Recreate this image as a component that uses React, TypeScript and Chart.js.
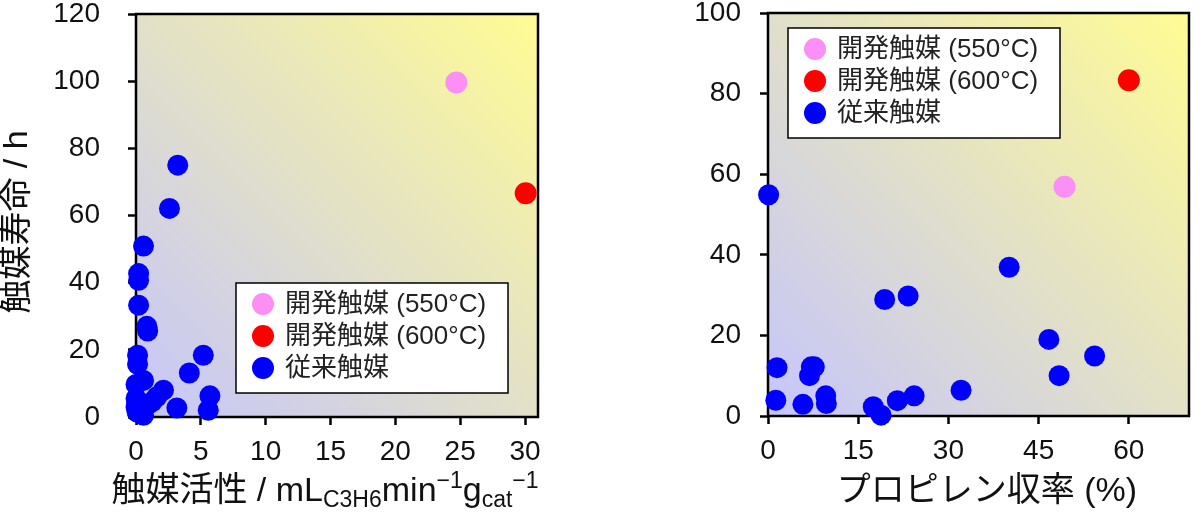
import React, { useEffect, useRef } from 'react';
import { Chart, registerables } from 'chart.js';

Chart.register(...registerables);

// ---------- Data ----------
const legendLabels = ['開発触媒 (550°C)', '開発触媒 (600°C)', '従来触媒'];
const markerColors = ['#fb8ff5', '#ff0000', '#0000ff'];

// Left chart: activity (x) vs lifetime (y)
const leftDev550X = [24.7];
const leftDev550Y = [99.6];
const leftDev600X = [30.05];
const leftDev600Y = [66.6];
const leftConvX = [3.22, 2.58, 0.58, 0.2, 0.2, 0.2, 0.84, 0.9, 0.12, 0.12, 5.19, 4.11, 0.58, 0.0, 2.12, 1.6, 5.7, 3.15, 5.57, 0.0, 0.0, 0.84, 0.58, 0.08, 1.23];
const leftConvY = [75.0, 62.1, 50.9, 42.7, 40.7, 33.3, 27.0, 25.6, 18.4, 15.7, 18.4, 13.1, 10.9, 9.7, 8.0, 6.0, 6.3, 2.7, 2.0, 5.5, 3.0, 3.5, 0.5, 1.5, 4.5];
const leftXTicks = [0, 5, 10, 15, 20, 25, 30];
const leftYTicks = [0, 20, 40, 60, 80, 100, 120];

// Right chart: propylene yield (x) vs CO2 conversion (y)
const rightDev550X = [49.3];
const rightDev550Y = [56.9];
const rightDev600X = [60.0];
const rightDev600Y = [83.3];
const rightConvX = [0.1, 40.1, 19.4, 23.3, 46.7, 48.4, 54.3, 1.5, 7.2, 7.7, 6.9, 1.3, 5.8, 9.6, 9.7, 17.5, 18.8, 21.5, 24.3, 32.1];
const rightConvY = [54.9, 36.9, 28.9, 29.8, 19.0, 10.0, 14.9, 12.0, 12.2, 12.2, 10.0, 3.9, 2.9, 5.0, 3.1, 2.3, 0.2, 3.8, 5.0, 6.4];
const rightXTicks = [0, 15, 30, 45, 60];
const rightYTicks = [0, 20, 40, 60, 80, 100];

// ---------- Styling helpers ----------
const FONT = "'Liberation Sans', 'Noto Sans CJK JP', sans-serif";

type Seg = { t: string; size: number; dy?: number };

function drawRich(ctx: CanvasRenderingContext2D, segs: Seg[], cx: number, cy: number, rotate: boolean) {
  ctx.save();
  ctx.translate(cx, cy);
  if (rotate) ctx.rotate(-Math.PI / 2);
  ctx.fillStyle = '#111';
  ctx.textBaseline = 'middle';
  ctx.textAlign = 'left';
  let total = 0;
  const widths = segs.map((s) => {
    ctx.font = `${s.size}px ${FONT}`;
    const w = ctx.measureText(s.t).width;
    total += w;
    return w;
  });
  let x = -total / 2;
  segs.forEach((s, i) => {
    ctx.font = `${s.size}px ${FONT}`;
    ctx.fillText(s.t, x, s.dy || 0);
    x += widths[i];
  });
  ctx.restore();
}

const toPts = (xs: number[], ys: number[]) => xs.map((x, i) => ({ x, y: ys[i] }));

interface Cfg {
  dev550: { x: number; y: number }[];
  dev600: { x: number; y: number }[];
  conv: { x: number; y: number }[];
  xMax: number;
  yMax: number;
  xTicks: number[];
  yTicks: number[];
  yWidth: number;
  xHeight: number;
  padTop: number;
  padRight: number;
  yPad: number;
  legend: { x: number; y: number };
  xTitle: Seg[];
  xTitlePos: { x: number; y: number };
  yTitle: Seg[];
  yTitlePos: { x: number; y: number };
}

function makeChart(canvas: HTMLCanvasElement, c: Cfg) {
  const bgPlugin = {
    id: 'bg',
    beforeDraw(chart: any) {
      const { ctx, chartArea: a } = chart;
      const g = ctx.createLinearGradient(a.left, a.bottom, a.right, a.top);
      g.addColorStop(0, '#c5c5fb');
      g.addColorStop(1, '#fffc94');
      ctx.save();
      ctx.fillStyle = g;
      ctx.fillRect(a.left, a.top, a.right - a.left, a.bottom - a.top);
      ctx.restore();
    },
    beforeDatasetsDraw(chart: any) {
      const { ctx, chartArea: a } = chart;
      ctx.save();
      ctx.strokeStyle = '#000';
      ctx.lineWidth = 2.5;
      ctx.strokeRect(a.left, a.top, a.right - a.left, a.bottom - a.top);
      ctx.restore();
    },
    afterDraw(chart: any) {
      const ctx = chart.ctx as CanvasRenderingContext2D;
      // legend box
      const bx = c.legend.x, by = c.legend.y, bw = 272, bh = 110;
      ctx.save();
      ctx.fillStyle = '#fff';
      ctx.fillRect(bx, by, bw, bh);
      ctx.strokeStyle = '#000';
      ctx.lineWidth = 1.5;
      ctx.strokeRect(bx, by, bw, bh);
      const rows = [21, 53, 85];
      chart.data.datasets.forEach((ds: any, i: number) => {
        ctx.beginPath();
        ctx.fillStyle = ds.backgroundColor;
        ctx.arc(bx + 27, by + rows[i], 11, 0, Math.PI * 2);
        ctx.fill();
        ctx.fillStyle = '#222';
        ctx.font = `26px ${FONT}`;
        ctx.textBaseline = 'middle';
        ctx.textAlign = 'left';
        ctx.fillText(ds.label, bx + 49, by + rows[i] + 1);
      });
      ctx.restore();
      drawRich(ctx, c.xTitle, c.xTitlePos.x, c.xTitlePos.y, false);
      drawRich(ctx, c.yTitle, c.yTitlePos.x, c.yTitlePos.y, true);
    },
  };

  return new Chart(canvas, {
    type: 'scatter',
    data: {
      datasets: [
        { label: legendLabels[0], data: c.dev550, backgroundColor: markerColors[0], borderWidth: 0, pointRadius: 11, clip: false as any, order: 1 },
        { label: legendLabels[1], data: c.dev600, backgroundColor: markerColors[1], borderWidth: 0, pointRadius: 11, clip: false as any, order: 1 },
        { label: legendLabels[2], data: c.conv, backgroundColor: markerColors[2], borderWidth: 0, pointRadius: 10.5, clip: false as any, order: 2 },
      ],
    },
    options: {
      animation: false,
      responsive: false,
      devicePixelRatio: 1,
      layout: { padding: { top: c.padTop, right: c.padRight, left: 0, bottom: 0 } },
      plugins: { legend: { display: false }, tooltip: { enabled: false }, title: { display: false } },
      scales: {
        x: {
          type: 'linear',
          min: 0,
          max: c.xMax,
          border: { display: false },
          grid: { display: true, drawOnChartArea: false, drawTicks: true, tickLength: 8, tickColor: '#000', tickWidth: 2.5 },
          ticks: { color: '#111', font: { family: FONT, size: 28 }, padding: 10, autoSkip: false, maxRotation: 0 },
          afterBuildTicks: (s: any) => { s.ticks = c.xTicks.map((v) => ({ value: v })); },
          afterFit: (s: any) => { s.height = c.xHeight; s.paddingLeft = 0; s.paddingRight = 0; },
        },
        y: {
          type: 'linear',
          min: 0,
          max: c.yMax,
          border: { display: false },
          grid: { display: true, drawOnChartArea: false, drawTicks: true, tickLength: 8, tickColor: '#000', tickWidth: 2.5 },
          ticks: { color: '#111', font: { family: FONT, size: 28 }, padding: c.yPad, autoSkip: false },
          afterBuildTicks: (s: any) => { s.ticks = c.yTicks.map((v) => ({ value: v })); },
          afterFit: (s: any) => { s.width = c.yWidth; s.paddingTop = 0; s.paddingBottom = 0; },
        },
      },
    } as any,
    plugins: [bgPlugin],
  });
}

export default function App() {
  const leftRef = useRef<HTMLCanvasElement>(null);
  const rightRef = useRef<HTMLCanvasElement>(null);

  useEffect(() => {
    const left = makeChart(leftRef.current!, {
      dev550: toPts(leftDev550X, leftDev550Y),
      dev600: toPts(leftDev600X, leftDev600Y),
      conv: toPts(leftConvX, leftConvY),
      xMax: 31,
      yMax: 120,
      xTicks: leftXTicks,
      yTicks: leftYTicks,
      yWidth: 136,
      xHeight: 104,
      padTop: 14,
      padRight: 62,
      yPad: 28,
      legend: { x: 236, y: 283 },
      xTitle: [
        { t: '触媒活性 / mL', size: 34 },
        { t: 'C3H6', size: 23, dy: 9 },
        { t: 'min', size: 34 },
        { t: '−1', size: 23, dy: -10 },
        { t: 'g', size: 34 },
        { t: 'cat', size: 23, dy: 9 },
        { t: '−1', size: 23, dy: -10 },
      ],
      xTitlePos: { x: 325, y: 492 },
      yTitle: [{ t: '触媒寿命 / h', size: 34 }],
      yTitlePos: { x: 18, y: 222 },
    });
    const right = makeChart(rightRef.current!, {
      dev550: toPts(rightDev550X, rightDev550Y),
      dev600: toPts(rightDev600X, rightDev600Y),
      conv: toPts(rightConvX, rightConvY),
      xMax: 70,
      yMax: 100,
      xTicks: rightXTicks,
      yTicks: rightYTicks,
      yWidth: 168,
      xHeight: 105,
      padTop: 13,
      padRight: 4,
      yPad: 19,
      legend: { x: 188, y: 28 },
      xTitle: [{ t: 'プロピレン収率 (%)', size: 34 }],
      xTitlePos: { x: 387, y: 492 },
      yTitle: [
        { t: 'CO', size: 35 },
        { t: '2', size: 23, dy: 9 },
        { t: ' 転化率 (%)', size: 35 },
      ],
      yTitlePos: { x: 665, y: 210 },
    } as any);
    return () => { left.destroy(); right.destroy(); };
  }, []);

  return (
    <div style={{ position: 'fixed', left: 0, top: 0, width: 1200, height: 521, background: '#fff' }}>
      <canvas ref={leftRef} width={600} height={521} style={{ position: 'absolute', left: 0, top: 0, width: 600, height: 521 }} />
      <canvas ref={rightRef} width={600} height={521} style={{ position: 'absolute', left: 600, top: 0, width: 600, height: 521 }} />
    </div>
  );
}
